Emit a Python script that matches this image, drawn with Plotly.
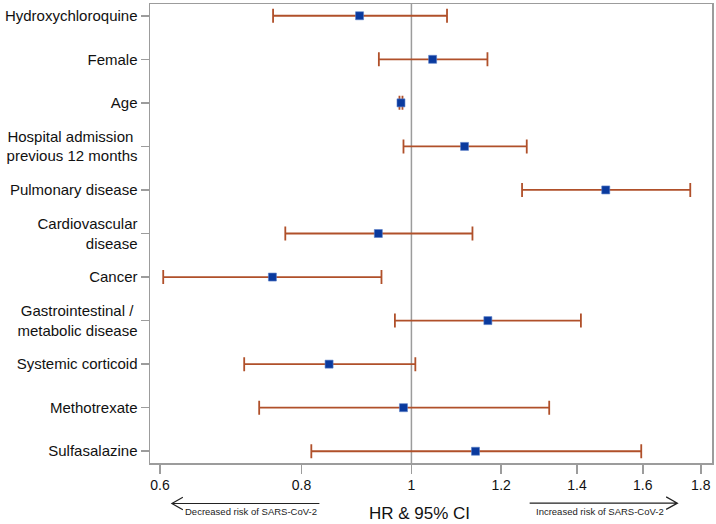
import plotly.graph_objects as go
import math

# ---- data ----
labels = [
    "Hydroxychloroquine",
    "Female",
    "Age",
    "Hospital admission\u00a0<br>previous 12 months",
    "Pulmonary disease",
    "Cardiovascular<br>disease",
    "Cancer",
    "Gastrointestinal /\u00a0<br>metabolic disease",
    "Systemic corticoid",
    "Methotrexate",
    "Sulfasalazine",
]
hr    = [0.900, 1.044, 0.979, 1.114, 1.484, 0.935, 0.754, 1.168, 0.846, 0.984, 1.139]
lower = [0.755, 0.936, 0.976, 0.984, 1.252, 0.774, 0.604, 0.967, 0.712, 0.734, 0.816]
upper = [1.075, 1.167, 0.982, 1.264, 1.762, 1.132, 0.941, 1.411, 1.008, 1.323, 1.595]
xtick_vals = [0.6, 0.8, 1, 1.2, 1.4, 1.6, 1.8]
xtick_text = ["0.6", "0.8", "1", "1.2", "1.4", "1.6", "1.8"]

W, H = 716, 524
ML, MR, MT, MB = 150, 2, 2, 61
PW, PH = W - ML - MR, H - MT - MB

def px(x):
    return (x - ML) / PW

def py(y):
    return (H - MB - y) / PH

FONT = "Liberation Sans, Arial, sans-serif"
GRAY = "#9c9c9c"

fig = go.Figure()
fig.add_trace(go.Scatter(
    x=hr, y=labels, mode="markers",
    marker=dict(symbol="square", size=8, color="#0a3a9e",
                line=dict(width=0.6, color="#5a7fc8")),
    error_x=dict(type="data", symmetric=False,
                 array=[u - h for u, h in zip(upper, hr)],
                 arrayminus=[h - l for h, l in zip(hr, lower)],
                 color="#b0502a", thickness=1.8, width=7),
    showlegend=False, hoverinfo="skip",
))

fig.add_shape(type="line", xref="x", yref="paper", x0=1, x1=1, y0=0, y1=1,
              line=dict(color=GRAY, width=1.5), layer="below")

# arrows below the axis
ac = "#222222"
aw = 1.2
fig.add_shape(type="path", xref="paper", yref="paper",
              path=f"M{px(320)},{py(503.7)} L{px(172)},{py(503.7)} "
                   f"M{px(183)},{py(497.5)} L{px(172)},{py(503.7)} L{px(183)},{py(510)}",
              line=dict(color=ac, width=aw))
fig.add_shape(type="path", xref="paper", yref="paper",
              path=f"M{px(531)},{py(503.3)} L{px(679.3)},{py(503.3)} "
                   f"M{px(668)},{py(497)} L{px(679.3)},{py(503.3)} L{px(668)},{py(509.6)}",
              line=dict(color=ac, width=aw))

fig.add_annotation(xref="paper", yref="paper", x=px(183), y=py(511.7),
                   xanchor="left", yanchor="middle", showarrow=False,
                   text="Decreased risk of SARS-CoV-2",
                   font=dict(family=FONT, size=9.5, color="#222"))
fig.add_annotation(xref="paper", yref="paper", x=px(602), y=py(511.7),
                   xanchor="center", yanchor="middle", showarrow=False,
                   text="Increased risk of SARS-CoV-2",
                   font=dict(family=FONT, size=9.5, color="#222"))
fig.add_annotation(xref="paper", yref="paper", x=px(420), y=py(514),
                   xanchor="center", yanchor="middle", showarrow=False,
                   text="HR &amp; 95% CI",
                   font=dict(family=FONT, size=17, color="#111"))

fig.update_layout(
    width=W, height=H,
    margin=dict(l=ML, r=MR, t=MT, b=MB, pad=0),
    paper_bgcolor="white", plot_bgcolor="white",
    font=dict(family=FONT, size=15, color="#111"),
    xaxis=dict(type="log",
               range=[math.log10(0.588), math.log10(1.8415)],
               tickvals=xtick_vals, ticktext=xtick_text,
               showgrid=False, zeroline=False,
               showline=True, mirror=True, linecolor=GRAY, linewidth=1.5,
               ticks="outside", ticklen=9, tickcolor=GRAY, tickwidth=1.5,
               tickfont=dict(size=14)),
    yaxis=dict(type="category", categoryorder="array", categoryarray=labels,
               range=[10.27, -0.27],
               showgrid=False, zeroline=False,
               showline=True, mirror=True, linecolor=GRAY, linewidth=1.5,
               ticks="outside", ticklen=8, tickcolor=GRAY, tickwidth=1.5,
               tickfont=dict(size=15)),
)

fig.write_html("out.html",
               config={"displayModeBar": False, "staticPlot": True},
               post_script="document.body.style.margin='0';document.body.style.overflow='hidden';")
